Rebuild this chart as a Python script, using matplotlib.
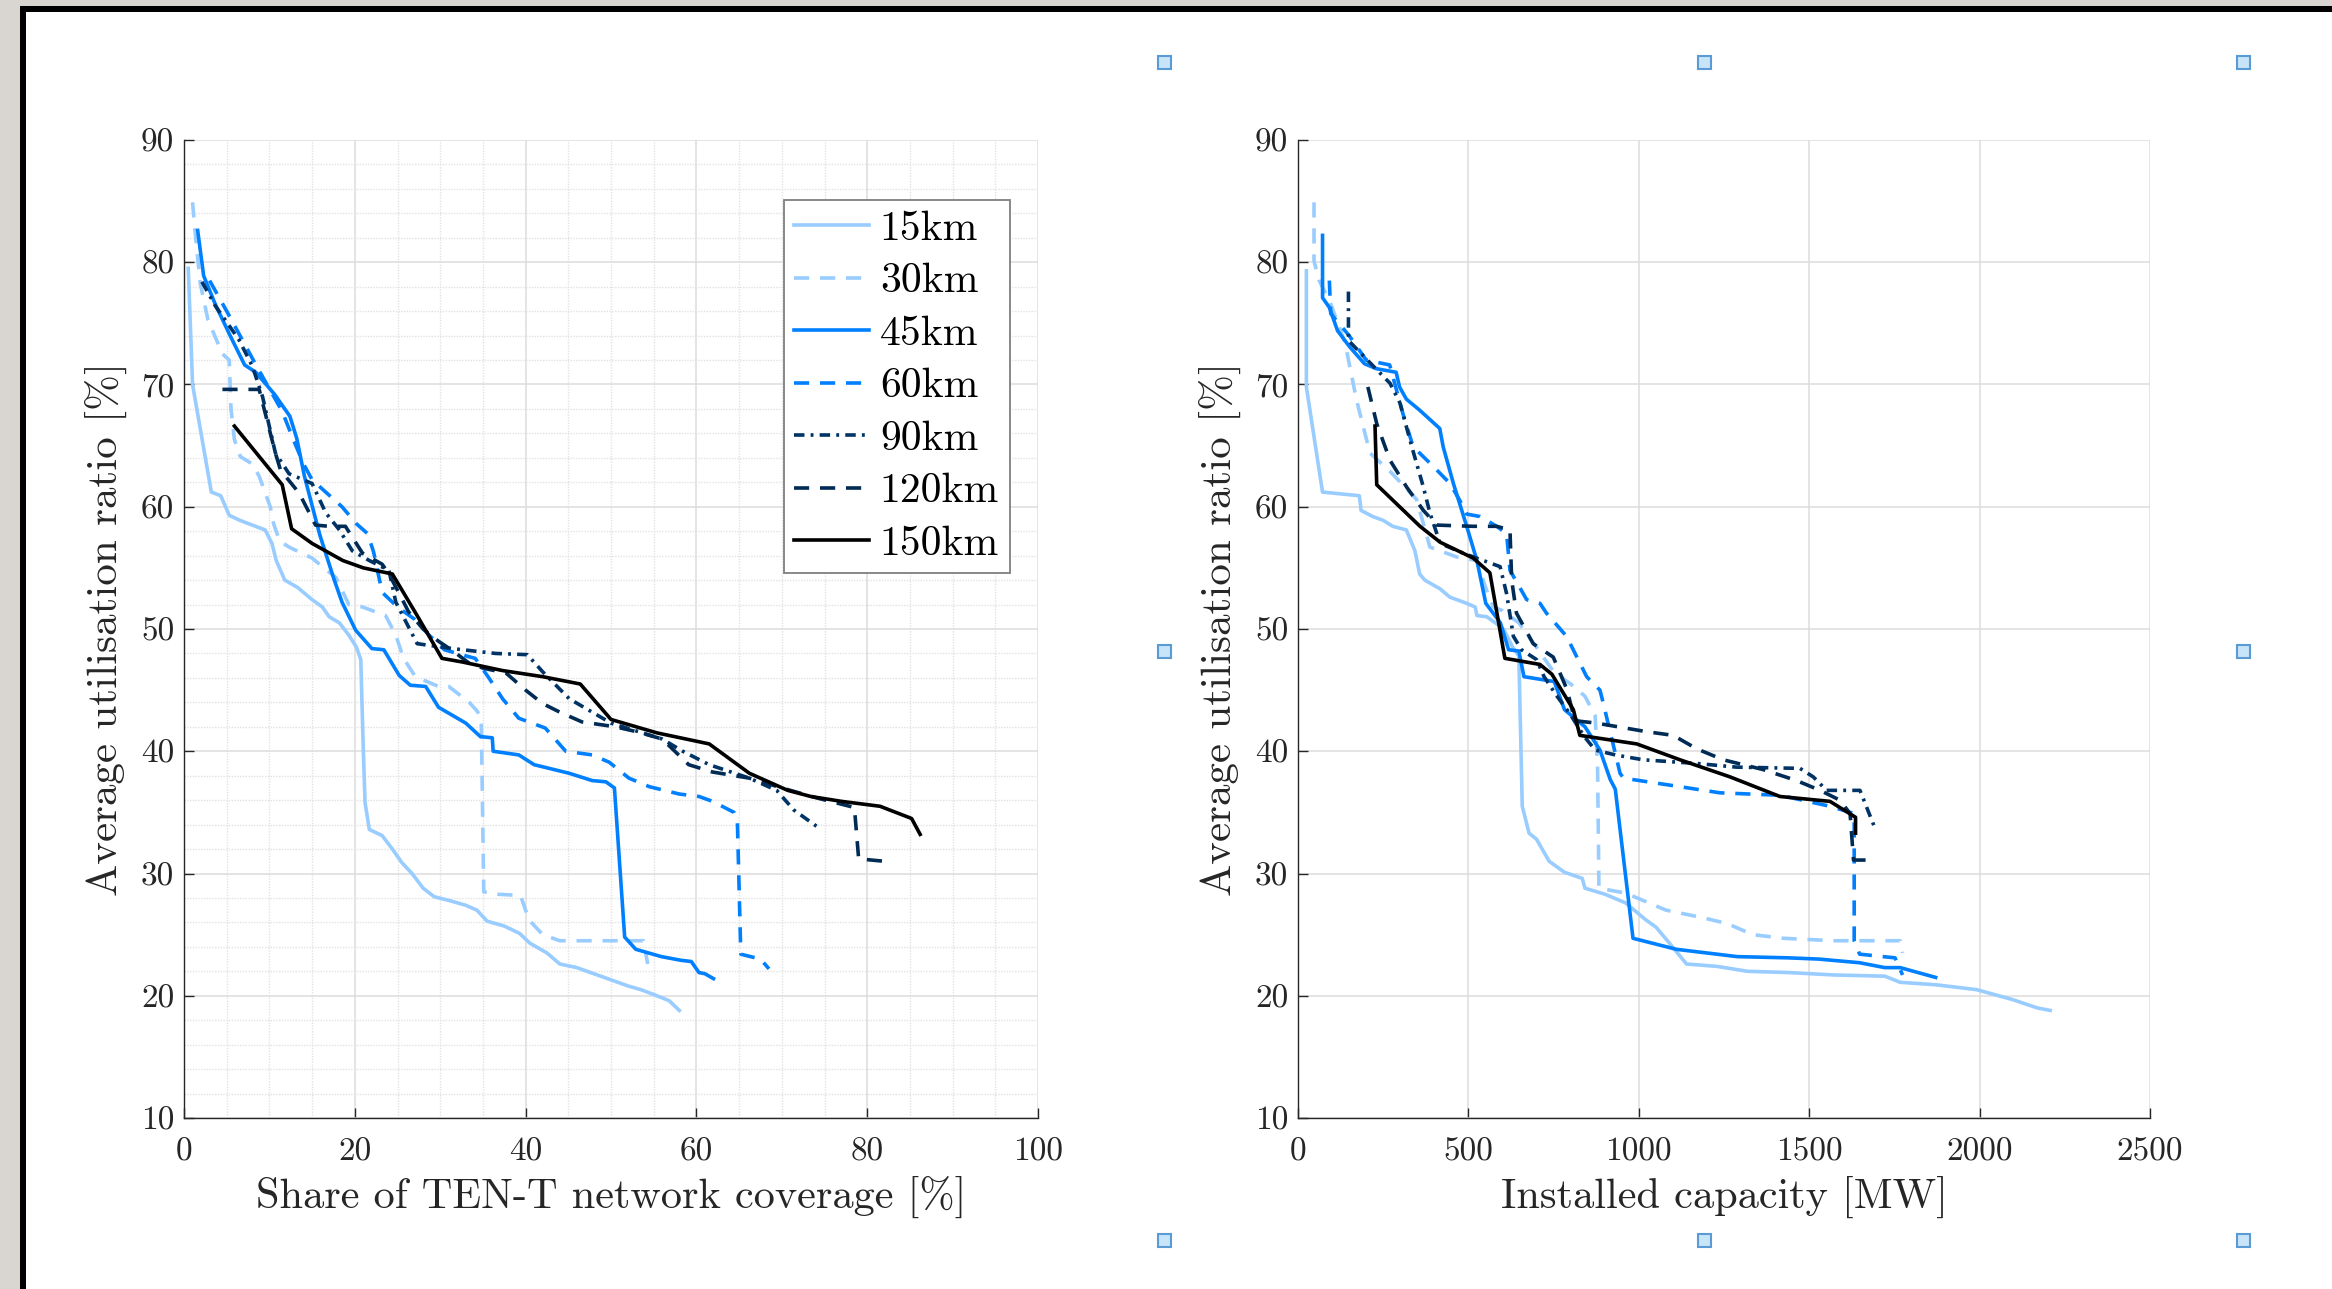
import matplotlib
matplotlib.use("Agg")
import matplotlib.pyplot as plt
from matplotlib.patches import Rectangle
from matplotlib.ticker import MultipleLocator

plt.rcParams['font.family'] = 'serif'
plt.rcParams['font.serif'] = ['cmr10']
plt.rcParams['mathtext.fontset'] = 'cm'
plt.rcParams['axes.unicode_minus'] = False
plt.rcParams['axes.formatter.use_mathtext'] = False

# ---------------- data: left panel (share of TEN-T coverage [%]) ----------------
L15_x = [0.5, 1.0, 3.2, 4.3, 5.3, 6.5, 8.0, 9.5, 10.3, 10.8, 11.8, 13.3, 15.0, 16.2, 17.0, 18.2, 19.3, 20.2, 20.7, 21.0, 21.2, 21.7, 23.2, 24.4, 25.5, 26.7, 28.0, 29.3, 31.0, 33.0, 34.3, 35.5, 37.5, 39.3, 40.5, 42.5, 44.0, 46.0, 48.0, 50.0, 52.0, 53.5, 55.0, 56.8, 58.0]
L15_y = [79.5, 70.0, 61.2, 60.9, 59.3, 58.9, 58.5, 58.1, 57.0, 55.6, 54.0, 53.4, 52.4, 51.8, 51.0, 50.5, 49.5, 48.5, 47.5, 40.0, 35.8, 33.6, 33.1, 32.0, 30.9, 30.0, 28.8, 28.1, 27.8, 27.4, 27.0, 26.1, 25.7, 25.1, 24.3, 23.5, 22.6, 22.3, 21.8, 21.3, 20.8, 20.5, 20.1, 19.6, 18.8]

L30_x = [1.0, 1.3, 1.9, 2.8, 4.5, 5.3, 5.5, 5.9, 6.6, 8.0, 8.8, 10.1, 10.5, 11.2, 12.3, 13.5, 15.0, 16.2, 17.8, 19.3, 20.9, 23.6, 24.8, 25.7, 27.1, 29.8, 31.0, 33.4, 34.3, 34.8, 35.1, 36.8, 39.4, 40.4, 42.0, 44.0, 50.0, 53.8, 54.3]
L30_y = [84.9, 82.5, 78.3, 75.3, 72.5, 72.0, 68.0, 65.5, 64.1, 63.5, 62.5, 60.0, 58.6, 57.2, 56.7, 56.3, 55.8, 55.1, 54.2, 52.0, 51.8, 51.1, 49.5, 47.6, 46.1, 45.3, 45.3, 44.0, 43.3, 42.8, 28.5, 28.3, 28.2, 26.2, 25.0, 24.5, 24.5, 24.5, 22.6]

L45_x = [1.6, 2.3, 3.7, 5.4, 7.1, 8.4, 10.6, 12.4, 13.2, 14.1, 15.0, 15.9, 17.6, 18.5, 20.1, 22.0, 23.4, 25.2, 26.5, 28.3, 29.8, 33.0, 34.7, 36.1, 36.2, 39.2, 41.0, 45.1, 47.8, 49.4, 50.4, 51.6, 52.9, 55.9, 58.2, 59.4, 60.3, 61.0, 62.0]
L45_y = [82.6, 78.9, 76.5, 74.0, 71.6, 71.0, 69.2, 67.4, 65.6, 62.5, 60.1, 57.7, 54.0, 52.2, 49.9, 48.4, 48.3, 46.2, 45.4, 45.3, 43.6, 42.3, 41.2, 41.1, 40.0, 39.7, 38.9, 38.2, 37.6, 37.5, 37.0, 24.8, 23.8, 23.2, 22.9, 22.8, 21.9, 21.8, 21.4]

L60_x = [3.0, 5.0, 8.5, 11.5, 12.8, 14.0, 15.0, 18.5, 20.2, 21.5, 22.2, 23.2, 25.0, 27.0, 28.7, 30.5, 33.0, 34.1, 35.7, 37.3, 39.2, 42.3, 44.7, 47.8, 49.8, 52.1, 54.5, 58.0, 60.3, 61.9, 64.4, 64.8, 65.2, 67.5, 68.5]
L60_y = [78.5, 76.0, 71.5, 67.8, 65.5, 63.5, 62.2, 60.0, 58.6, 57.8, 56.3, 53.0, 51.8, 50.8, 49.5, 48.3, 47.8, 47.6, 46.0, 44.3, 42.7, 41.9, 40.0, 39.7, 39.1, 37.8, 37.1, 36.5, 36.3, 35.9, 35.0, 34.2, 23.4, 23.0, 22.2]

L90_x = [2.1, 3.7, 6.4, 8.0, 9.2, 10.7, 12.3, 15.0, 16.6, 18.2, 19.7, 21.7, 24.0, 24.8, 27.3, 31.4, 36.5, 40.2, 42.0, 45.1, 50.0, 56.0, 58.4, 61.5, 66.2, 69.4, 71.4, 74.6]
L90_y = [78.4, 76.4, 73.7, 71.5, 69.0, 64.4, 62.7, 61.9, 59.5, 58.1, 56.4, 55.6, 54.8, 52.2, 48.8, 48.4, 48.0, 47.9, 46.5, 44.3, 42.3, 41.0, 40.0, 38.9, 37.8, 36.8, 35.2, 33.6]

L120_x = [4.5, 8.8, 9.2, 10.7, 11.3, 13.5, 15.4, 17.0, 18.9, 20.9, 23.2, 24.0, 25.5, 26.3, 28.0, 29.8, 31.5, 33.4, 35.0, 37.7, 40.0, 42.0, 44.0, 46.6, 50.5, 53.0, 56.0, 59.1, 61.9, 66.2, 70.0, 74.0, 78.5, 79.0, 82.0]
L120_y = [69.6, 69.6, 68.5, 64.4, 63.0, 61.1, 58.5, 58.4, 58.4, 56.2, 55.3, 54.5, 52.5, 51.4, 50.0, 49.0, 48.2, 47.2, 46.8, 46.4, 45.0, 43.9, 43.2, 42.4, 42.0, 41.6, 41.0, 38.9, 38.3, 37.8, 37.0, 36.2, 35.4, 31.2, 31.0]

L150_x = [5.9, 11.5, 12.6, 15.0, 18.6, 21.0, 24.4, 27.3, 30.2, 32.6, 37.3, 42.0, 46.4, 50.0, 55.4, 61.5, 66.2, 70.7, 73.4, 77.0, 81.5, 85.2, 86.2]
L150_y = [66.6, 61.8, 58.2, 57.0, 55.6, 55.0, 54.5, 51.1, 47.6, 47.3, 46.6, 46.1, 45.5, 42.6, 41.5, 40.6, 38.2, 36.8, 36.3, 35.9, 35.5, 34.5, 33.2]

# ---------------- data: right panel (installed capacity [MW]) ----------------
R15_x = [24.6, 24.6, 71.9, 180, 185, 219, 249, 278, 318, 343, 357, 372, 416, 446, 495, 520, 525, 554, 584, 603, 630, 648, 658, 678, 700, 737, 782, 834, 842, 901, 961, 1021, 1051, 1081, 1140, 1230, 1319, 1439, 1573, 1722, 1767, 1871, 1991, 2095, 2170, 2207]
R15_y = [79.3, 69.8, 61.2, 60.9, 59.7, 59.2, 58.9, 58.4, 58.1, 56.4, 54.5, 54.0, 53.3, 52.6, 52.1, 51.8, 51.1, 51.0, 50.4, 50.0, 48.5, 47.8, 35.5, 33.3, 32.8, 31.0, 30.1, 29.6, 28.8, 28.3, 27.6, 26.2, 25.6, 24.6, 22.6, 22.4, 22.0, 21.9, 21.7, 21.6, 21.1, 20.9, 20.5, 19.7, 19.0, 18.8]

R30_x = [47, 47, 62, 92, 121, 138, 172, 211, 270, 348, 387, 465, 524, 553, 573, 600, 648, 700, 750, 800, 842, 872, 879, 883, 961, 1080, 1185, 1260, 1334, 1424, 1573, 1767, 1774]
R30_y = [84.9, 80.1, 78.5, 76.9, 74.7, 73.4, 68.7, 64.4, 62.9, 60.6, 56.7, 55.9, 55.6, 53.2, 51.8, 51.5, 50.5, 48.5, 46.5, 45.5, 44.5, 42.9, 38.8, 28.8, 28.4, 27.0, 26.4, 25.9, 25.0, 24.7, 24.5, 24.5, 23.5]

R45_x = [72, 72, 92, 116, 151, 195, 229, 288, 298, 318, 357, 416, 426, 456, 495, 525, 551, 594, 618, 648, 663, 752, 782, 842, 886, 916, 931, 983, 1110, 1289, 1439, 1528, 1648, 1722, 1767, 1871]
R45_y = [82.2, 77.1, 76.3, 74.4, 73.1, 71.7, 71.3, 71.0, 69.8, 68.8, 67.9, 66.4, 64.9, 61.9, 58.4, 55.6, 52.1, 50.5, 48.3, 48.2, 46.1, 45.7, 43.4, 42.0, 40.1, 37.7, 36.9, 24.7, 23.8, 23.2, 23.1, 23.0, 22.7, 22.3, 22.3, 21.5]

R60_x = [92, 96, 150, 200, 269, 308, 338, 397, 446, 475, 495, 534, 583, 612, 622, 671, 710, 729, 788, 847, 886, 896, 945, 955, 1121, 1238, 1414, 1561, 1632, 1632, 1648, 1752, 1774]
R60_y = [78.5, 75.8, 74.0, 72.0, 71.6, 67.6, 64.9, 63.3, 61.9, 60.5, 59.4, 59.2, 58.4, 57.8, 54.8, 52.4, 52.1, 51.3, 49.4, 46.1, 45.0, 43.9, 38.2, 37.8, 37.1, 36.6, 36.4, 35.5, 34.9, 24.5, 23.4, 23.1, 21.7]

R90_x = [148, 148, 221, 270, 299, 334, 368, 387, 417, 485, 593, 612, 632, 656, 700, 722, 760, 797, 840, 872, 931, 1013, 1170, 1287, 1473, 1512, 1551, 1649, 1693]
R90_y = [77.6, 73.6, 71.5, 70.1, 68.5, 64.9, 61.6, 59.5, 57.0, 56.2, 55.1, 52.9, 49.4, 48.3, 47.5, 46.1, 44.5, 43.1, 41.2, 40.1, 39.7, 39.3, 39.0, 38.7, 38.6, 37.9, 36.8, 36.8, 33.7]

R120_x = [205, 231, 270, 319, 368, 407, 514, 583, 622, 627, 641, 690, 749, 790, 812, 876, 1023, 1101, 1170, 1248, 1365, 1463, 1532, 1590, 1620, 1630, 1678]
R120_y = [69.8, 66.8, 63.8, 61.6, 59.7, 58.5, 58.4, 58.4, 58.1, 54.0, 51.3, 48.8, 47.7, 45.0, 42.5, 42.3, 41.6, 41.3, 40.2, 39.3, 38.5, 37.6, 36.8, 36.0, 34.9, 31.1, 31.1]

R150_x = [226, 231, 358, 417, 514, 563, 607, 710, 745, 808, 827, 994, 1121, 1268, 1414, 1561, 1636, 1636]
R150_y = [66.6, 61.8, 58.4, 57.1, 55.8, 54.6, 47.6, 47.1, 46.3, 43.4, 41.3, 40.6, 39.3, 37.9, 36.3, 35.9, 34.6, 33.3]

labels = ['15km', '30km', '45km', '60km', '90km', '120km', '150km']
colors = ['#99ccff', '#99ccff', '#0080ff', '#0080ff', '#003366', '#002b55', '#000000']
LW = 2.6
DASH = (0, (4.2, 3.0))
DASHDOT = (0, (2.9, 1.7, 0.8, 1.7))
styles = ['-', DASH, '-', DASH, DASHDOT, DASH, '-']

left_series = [(L15_x, L15_y), (L30_x, L30_y), (L45_x, L45_y), (L60_x, L60_y),
               (L90_x, L90_y), (L120_x, L120_y), (L150_x, L150_y)]
right_series = [(R15_x, R15_y), (R30_x, R30_y), (R45_x, R45_y), (R60_x, R60_y),
                (R90_x, R90_y), (R120_x, R120_y), (R150_x, R150_y)]

W, H = 2332, 1289
fig = plt.figure(figsize=(W / 100, H / 100), dpi=100, facecolor='#d9d6d1')

# window frame (black border + white canvas)
fig.add_artist(Rectangle((20 / W, 0), 1, (H - 6) / H, transform=fig.transFigure,
                         facecolor='black', edgecolor='none', zorder=-20))
fig.add_artist(Rectangle((26 / W, 0), 1, (H - 12) / H, transform=fig.transFigure,
                         facecolor='white', edgecolor='none', zorder=-19))

AX_COL = '#262626'


def style_axes(ax, minor):
    for s in ['top', 'right']:
        ax.spines[s].set_visible(False)
    for s in ['left', 'bottom']:
        ax.spines[s].set_color(AX_COL)
        ax.spines[s].set_linewidth(1.0)
    ax.tick_params(which='major', direction='in', length=7, width=1.0,
                   colors=AX_COL, labelsize=24, top=False, right=False)
    ax.tick_params(axis='x', which='major', pad=14)
    ax.tick_params(axis='y', which='major', pad=7)
    ax.tick_params(which='minor', length=0)
    ax.grid(True, which='major', color='#dcdcdc', linewidth=1.1, linestyle='-')
    if minor:
        ax.grid(True, which='minor', color='#e2e2e2', linewidth=1.0, linestyle=(0, (1, 1)))
    ax.set_axisbelow(True)


axL = fig.add_axes([184 / W, 1 - 1118 / H, 854 / W, 978 / H])
axR = fig.add_axes([1298 / W, 1 - 1118 / H, 852 / W, 978 / H])

for ax, series in ((axL, left_series), (axR, right_series)):
    for (xs, ys), lab, c, ls in zip(series, labels, colors, styles):
        ax.plot(xs, ys, color=c, linestyle=ls, linewidth=LW, label=lab)

axL.set_xlim(0, 100)
axL.set_ylim(10, 90)
axL.xaxis.set_major_locator(MultipleLocator(20))
axL.xaxis.set_minor_locator(MultipleLocator(5))
axL.yaxis.set_major_locator(MultipleLocator(10))
axL.yaxis.set_minor_locator(MultipleLocator(2))
style_axes(axL, True)
axL.set_xlabel('Share of TEN-T network coverage [%]', fontsize=30.5, color=AX_COL, labelpad=7)
axL.set_ylabel('Average utilisation ratio [%]', fontsize=31, color=AX_COL, labelpad=10)

axR.set_xlim(0, 2500)
axR.set_ylim(10, 90)
axR.xaxis.set_major_locator(MultipleLocator(500))
axR.yaxis.set_major_locator(MultipleLocator(10))
style_axes(axR, False)
axR.set_xlabel('Installed capacity [MW]', fontsize=30.5, color=AX_COL, labelpad=7)
axR.set_ylabel('Average utilisation ratio [%]', fontsize=31, color=AX_COL, labelpad=10)

leg = axL.legend(loc='upper left', bbox_to_anchor=(0.7026, 0.9387), fontsize=30,
                 frameon=True, fancybox=False, framealpha=1, edgecolor='#7f7f7f',
                 borderpad=0.25, handlelength=1.8, handletextpad=0.25,
                 labelspacing=0.36, borderaxespad=0)
leg.get_frame().set_linewidth(1.3)

# selection handles
for (hx, hy) in [(1164, 62), (1704, 62), (2243, 62), (1164, 651), (2243, 651),
                 (1164, 1240), (1704, 1240), (2243, 1240)]:
    fig.add_artist(Rectangle(((hx - 6.5) / W, 1 - (hy + 6.5) / H), 13 / W, 13 / H,
                             transform=fig.transFigure, facecolor='#c8e4f8',
                             edgecolor='#5b9bd5', linewidth=1.5, zorder=5))

fig.savefig('out.png', dpi=100, facecolor=fig.get_facecolor())
